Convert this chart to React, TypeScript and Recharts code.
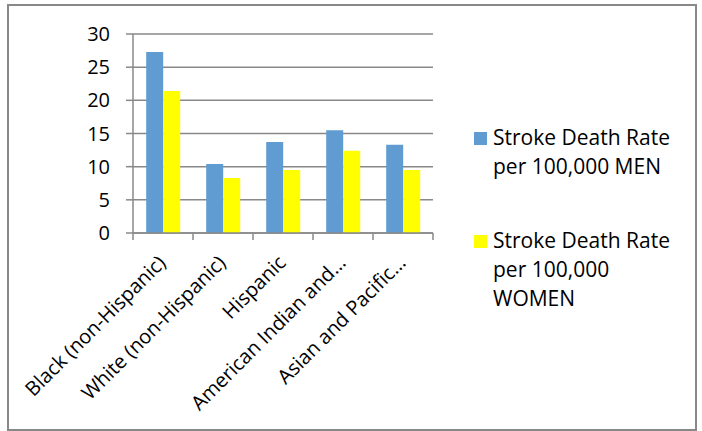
import { Bar, BarChart, CartesianGrid, XAxis, YAxis } from "recharts";

const categories = [
  "Black (non-Hispanic)",
  "White (non-Hispanic)",
  "Hispanic",
  "American Indian and…",
  "Asian and Pacific…",
];
const menRates = [27.3, 10.4, 13.7, 15.5, 13.3];
const womenRates = [21.4, 8.3, 9.5, 12.4, 9.5];
const yTicks = [0, 5, 10, 15, 20, 25, 30];

const series = [
  { key: "men", color: "#609CD2", lines: ["Stroke Death Rate", "per 100,000 MEN"] },
  { key: "women", color: "#FFFF00", lines: ["Stroke Death Rate", "per 100,000", "WOMEN"] },
];

const data = categories.map((name, i) => ({
  name,
  men: menRates[i],
  women: womenRates[i],
}));

const FONT = "'Open Sans', sans-serif";
const AXIS = "#888888";
const BAND = 60;

function XTick({ x, y, payload, index }: any) {
  const lx = x + 4;
  const ly = y + 31;
  return (
    <g>
      <line x1={x - BAND / 2} y1={y} x2={x - BAND / 2} y2={y + 7} stroke={AXIS} strokeWidth={1.5} />
      {index === categories.length - 1 && (
        <line x1={x + BAND / 2} y1={y} x2={x + BAND / 2} y2={y + 7} stroke={AXIS} strokeWidth={1.5} />
      )}
      <text
        x={lx}
        y={ly}
        transform={`rotate(-45 ${lx} ${ly})`}
        textAnchor="end"
        fontSize={20}
        fontFamily={FONT}
        fill="#000"
      >
        {payload.value}
      </text>
    </g>
  );
}

function LegendBox() {
  return (
    <div
      style={{
        position: "absolute",
        left: 474,
        top: 123,
        fontFamily: FONT,
        fontSize: 21,
        lineHeight: "29px",
        color: "#000",
      }}
    >
      {series.map((s, i) => (
        <div key={s.key} style={{ display: "flex", marginTop: i === 0 ? 0 : 45 }}>
          <div
            style={{
              width: 13,
              height: 13,
              background: s.color,
              marginTop: 9,
              marginRight: 6,
              flexShrink: 0,
            }}
          />
          <div>
            {s.lines.map((t) => (
              <div key={t}>{t}</div>
            ))}
          </div>
        </div>
      ))}
    </div>
  );
}

export default function App() {
  return (
    <div style={{ position: "absolute", left: 0, top: 0, width: 702, height: 431, background: "#fff" }}>
      <div
        style={{
          position: "absolute",
          left: 7,
          top: 4,
          width: 686,
          height: 423,
          border: "2px solid #888888",
        }}
      />
      <div style={{ position: "absolute", left: 0, top: 0 }}>
        <BarChart
          width={702}
          height={431}
          data={data}
          margin={{ top: 34, right: 269, left: 93, bottom: 98 }}
          barCategoryGap="22%"
          barGap={0}
        >
          <CartesianGrid vertical={false} stroke={AXIS} strokeWidth={1.5} />
          <XAxis
            dataKey="name"
            interval={0}
            tickLine={false}
            tickSize={0}
            tickMargin={0}
            height={100}
            stroke={AXIS}
            strokeWidth={1.5}
            tick={<XTick />}
          />
          <YAxis
            width={40}
            domain={[0, 30]}
            ticks={yTicks}
            interval={0}
            tickSize={7}
            tickMargin={16}
            stroke={AXIS}
            strokeWidth={1.5}
            tick={{ fill: "#000", fontSize: 20, fontFamily: FONT }}
          />
          {series.map((s) => (
            <Bar
              key={s.key}
              dataKey={s.key}
              name={s.lines.join(" ")}
              fill={s.color}
              isAnimationActive={false}
            />
          ))}
        </BarChart>
      </div>
      <LegendBox />
    </div>
  );
}
